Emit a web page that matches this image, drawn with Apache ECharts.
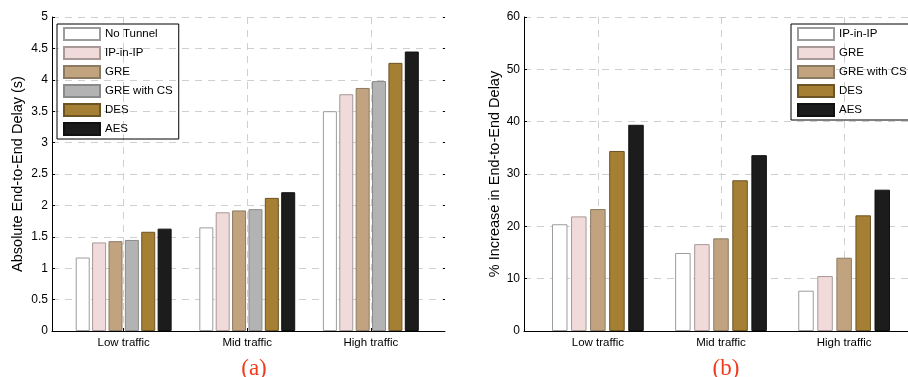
<!DOCTYPE html>
<html>
<head>
<meta charset="utf-8">
<script src="https://cdn.jsdelivr.net/npm/echarts@6/dist/echarts.min.js"></script>
<style>
  html, body { margin: 0; padding: 0; background: #fff; }
  #chart { width: 908px; height: 377px; }
</style>
</head>
<body>
<div id="chart"></div>
<script>
// categories / tick labels
const categories = ['Low traffic', 'Mid traffic', 'High traffic'];
const delayTicks = [0, 0.5, 1, 1.5, 2, 2.5, 3, 3.5, 4, 4.5, 5];
const increaseTicks = [0, 10, 20, 30, 40, 50, 60];

// (a) absolute end-to-end delay (s)
const noTunnel = [1.17, 1.65, 3.5];
const ipInIp = [1.41, 1.89, 3.77];
const gre = [1.43, 1.92, 3.87];
const greCs = [1.45, 1.94, 3.98];
const des = [1.58, 2.12, 4.27];
const aes = [1.63, 2.21, 4.45];

// (b) % increase in end-to-end delay
const incIpInIp = [20.4, 14.9, 7.7];
const incGre = [21.9, 16.6, 10.5];
const incGreCs = [23.3, 17.7, 14.0];
const incDes = [34.4, 28.8, 22.1];
const incAes = [39.4, 33.6, 27.0];

const FONT = "'Liberation Sans', Arial, sans-serif";

// bar styles
const styles = {
  white: { color: '#ffffff', borderColor: '#9c9c9c' },
  pink: { color: '#f0dada', borderColor: '#a89898' },
  tan: { color: '#c1a47f', borderColor: '#8c7a62' },
  gray: { color: '#b3b3b3', borderColor: '#8a8a8a' },
  brown: { color: '#a57f34', borderColor: '#6c5424' },
  black: { color: '#1c1c1c', borderColor: '#111111' }
};

const chart = echarts.init(document.getElementById('chart'));

const toPoints = vals => vals.map((v, i) => [i + 1, v]);

const makeBar = (name, vals, style, idx, width, gap) => ({
  name: name,
  type: 'bar',
  xAxisIndex: idx,
  yAxisIndex: idx * 2,
  data: toPoints(vals),
  barWidth: width,
  barGap: gap,
  itemStyle: { color: style.color, borderColor: style.borderColor, borderWidth: 1 },
  emphasis: { disabled: true }
});

const gridLine = { show: true, lineStyle: { color: '#cfcfcf', type: [7, 6], width: 1 } };

const makeXAxis = (idx, min) => ({
  type: 'value',
  gridIndex: idx,
  min: min,
  max: 3.6,
  axisLine: { show: true, onZero: false, lineStyle: { color: '#000', width: 1 } },
  axisTick: { show: true, inside: true, length: 3, customValues: [1, 2, 3], lineStyle: { color: '#000' } },
  axisLabel: {
    customValues: [1, 2, 3],
    formatter: v => categories[Math.round(v) - 1],
    color: '#000', fontSize: 11.5, fontFamily: FONT, margin: 6
  },
  splitLine: gridLine
});

const makeYAxis = (idx, ticks, title, gap) => ({
  type: 'value',
  gridIndex: idx,
  min: ticks[0],
  max: ticks[ticks.length - 1],
  interval: ticks[1] - ticks[0],
  name: title,
  nameLocation: 'middle',
  nameGap: gap,
  nameTextStyle: { color: '#000', fontSize: 14.5, fontFamily: FONT },
  axisLine: { show: true, lineStyle: { color: '#000', width: 1 } },
  axisTick: { show: true, inside: true, length: 3, lineStyle: { color: '#000' } },
  axisLabel: { color: '#000', fontSize: 12, fontFamily: FONT, margin: 4 },
  splitLine: gridLine
});

// right-side ticks only (matlab box)
const makeRightY = (idx, ticks) => ({
  type: 'value',
  gridIndex: idx,
  position: 'right',
  min: ticks[0],
  max: ticks[ticks.length - 1],
  interval: ticks[1] - ticks[0],
  axisLine: { show: false },
  axisTick: { show: true, inside: true, length: 2, lineStyle: { color: '#000' } },
  axisLabel: { show: false },
  splitLine: { show: false }
});

const legendBase = {
  orient: 'vertical',
  icon: 'rect',
  itemWidth: 36,
  itemHeight: 12,
  itemGap: 5,
  borderColor: '#000',
  borderWidth: 1,
  padding: [3, 6, 3, 6],
  selectedMode: false,
  textStyle: { color: '#000', fontSize: 11.5, lineHeight: 12, fontFamily: FONT }
};

const leftNames = ['No Tunnel', 'IP-in-IP', 'GRE', 'GRE with CS', 'DES', 'AES'];
const rightNames = ['b:IP-in-IP', 'b:GRE', 'b:GRE with CS', 'b:DES', 'b:AES'];

const option = {
  animation: false,
  backgroundColor: '#fff',
  textStyle: { fontFamily: FONT },
  grid: [
    { left: 52, top: 17, width: 393, height: 314, outerBoundsMode: 'none', containLabel: false },
    { left: 524, top: 17, width: 394, height: 314, outerBoundsMode: 'none', containLabel: false }
  ],
  title: [
    { text: '(a)', left: 249, top: 352, textAlign: 'center',
      textStyle: { color: '#f03c1e', fontSize: 23, fontWeight: 'normal', fontFamily: "'Liberation Serif', 'Times New Roman', serif" } },
    { text: '(b)', left: 721, top: 352, textAlign: 'center',
      textStyle: { color: '#f03c1e', fontSize: 23, fontWeight: 'normal', fontFamily: "'Liberation Serif', 'Times New Roman', serif" } }
  ],
  legend: [
    Object.assign({}, legendBase, { left: 57, top: 24, data: leftNames }),
    Object.assign({}, legendBase, { left: 791, top: 24, data: rightNames, formatter: n => n.replace('b:', '') })
  ],
  xAxis: [makeXAxis(0, 0.42), makeXAxis(1, 0.4)],
  yAxis: [
    makeYAxis(0, delayTicks, 'Absolute End-to-End Delay (s)', 27),
    makeRightY(0, delayTicks),
    makeYAxis(1, increaseTicks, '% Increase in End-to-End Delay', 21),
    makeRightY(1, increaseTicks)
  ],
  series: [
    makeBar('No Tunnel', noTunnel, styles.white, 0, 14, '17%'),
    makeBar('IP-in-IP', ipInIp, styles.pink, 0, 14, '17%'),
    makeBar('GRE', gre, styles.tan, 0, 14, '17%'),
    makeBar('GRE with CS', greCs, styles.gray, 0, 14, '17%'),
    makeBar('DES', des, styles.brown, 0, 14, '17%'),
    makeBar('AES', aes, styles.black, 0, 14, '17%'),
    makeBar('b:IP-in-IP', incIpInIp, styles.white, 1, 15.5, '23%'),
    makeBar('b:GRE', incGre, styles.pink, 1, 15.5, '23%'),
    makeBar('b:GRE with CS', incGreCs, styles.tan, 1, 15.5, '23%'),
    makeBar('b:DES', incDes, styles.brown, 1, 15.5, '23%'),
    makeBar('b:AES', incAes, styles.black, 1, 15.5, '23%')
  ]
};

chart.setOption(option);
</script>
</body>
</html>
